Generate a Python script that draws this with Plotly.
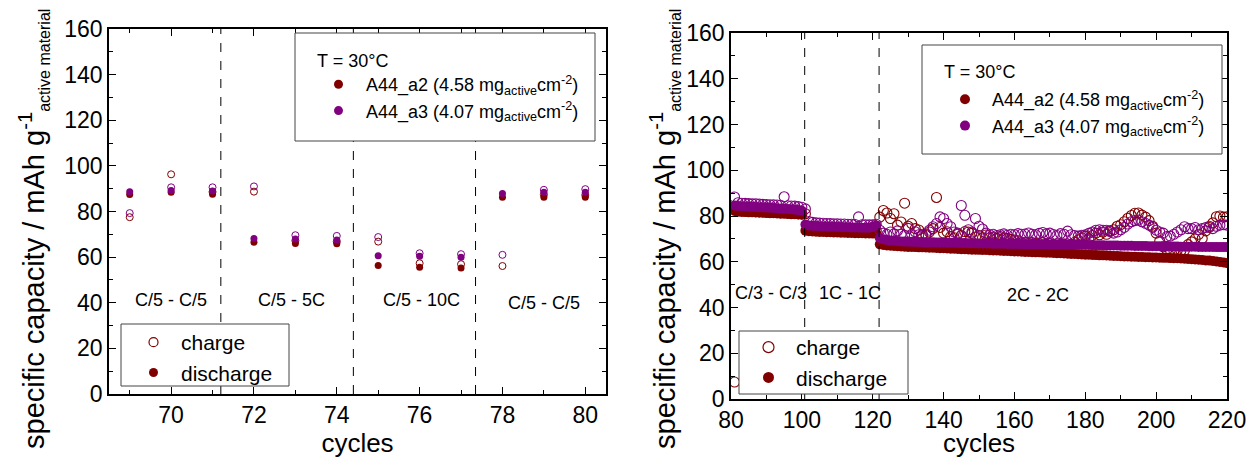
import plotly.graph_objects as go

FONT = "Liberation Sans, Arial, sans-serif"
RED = "#800000"
PURPLE = "#800080"
OFF = 8                    # default page body margin of the html page
W, H = 1256 - OFF, 458 - OFF

# ---------------- left panel data (cycles 69-80) ----------------
cyc_left = [69, 70, 71, 72, 73, 74, 75, 76, 77, 78, 79, 80]
a2_dis_left = [87.5, 88.4, 87.6, 66.5, 66.0, 65.9, 56.3, 55.6, 55.2, 86.2, 86.3, 86.3]
a3_dis_left = [88.7, 89.2, 89.0, 68.2, 68.0, 67.5, 60.6, 60.4, 60.0, 87.9, 88.4, 88.4]
a2_chg_left = [77.5, 96.3, 88.6, 88.7, 67.2, 66.8, 66.8, 57.3, 56.9, 56.1, 87.4, 87.2]
a3_chg_left = [79.3, 90.6, 90.6, 91.0, 69.6, 69.3, 68.8, 61.7, 61.3, 61.0, 89.5, 89.8]
left_dividers = [71.2, 74.4, 77.35]
left_labels = ["C/5 - C/5", "C/5 - 5C", "C/5 - 10C", "C/5 - C/5"]
left_label_x = [70.0, 72.9, 76.05, 79.0]
left_label_y = [41, 41, 41, 40]

# ---------------- right panel data (cycles 81-220) ----------------
cyc_right = list(range(81, 221))
a2_dis_right = [
    # C/3 81-100
    82.2, 81.9, 81.8, 81.7, 81.6, 81.6, 81.5, 81.4, 81.4, 81.3,
    81.2, 81.2, 81.1, 81.0, 81.0, 80.9, 80.8, 80.8, 80.7, 80.6,
    # 1C 101-121
    73.6, 73.3, 73.2, 73.1, 73.0, 73.0, 72.9, 72.9, 72.8, 72.8,
    72.7, 72.7, 72.6, 72.6, 72.5, 72.5, 72.5, 72.4, 72.4, 72.3, 72.3,
    # 2C 122-220
    67.6, 67.3, 67.1, 67.0, 66.9, 66.8, 66.7, 66.6, 66.5, 66.5,
    66.4, 66.3, 66.3, 66.2, 66.1, 66.1, 66.0, 65.9, 65.9, 65.8,
    65.7, 65.7, 65.6, 65.5, 65.5, 65.4, 65.3, 65.3, 65.2, 65.1,
    65.1, 65.0, 64.9, 64.9, 64.8, 64.7, 64.7, 64.6, 64.5, 64.5,
    64.4, 64.3, 64.3, 64.2, 64.1, 64.1, 64.0, 63.9, 63.9, 63.8,
    63.7, 63.7, 63.6, 63.5, 63.4, 63.4, 63.3, 63.2, 63.1, 63.1,
    63.0, 62.9, 62.8, 62.8, 62.7, 62.6, 62.5, 62.5, 62.4, 62.3,
    62.3, 62.2, 62.2, 62.1, 62.1, 62.0, 62.0, 61.9, 61.9, 61.8,
    61.7, 61.7, 61.6, 61.5, 61.5, 61.4, 61.3, 61.2, 61.1, 61.0,
    60.9, 60.8, 60.6, 60.5, 60.3, 60.1, 59.9, 59.7, 59.4,
]
a3_dis_right = [
    84.6, 84.4, 84.3, 84.2, 84.1, 84.0, 83.9, 83.8, 83.8, 83.7,
    83.6, 83.5, 83.4, 83.3, 83.2, 83.1, 83.0, 82.8, 82.6, 82.3,
    76.3, 75.9, 75.7, 75.6, 75.5, 75.4, 75.4, 75.3, 75.3, 75.2,
    75.2, 75.1, 75.1, 75.0, 75.0, 75.0, 74.9, 74.9, 74.9, 75.2, 75.8,
    70.4, 69.8, 69.5, 69.3, 69.2, 69.0, 68.9, 68.8, 68.8, 68.7,
    68.7, 68.6, 68.6, 68.5, 68.5, 68.5, 68.4, 68.4, 68.4, 68.3,
    68.3, 68.3, 68.2, 68.2, 68.2, 68.1, 68.1, 68.1, 68.0, 68.0,
    68.0, 68.0, 67.9, 67.9, 67.9, 67.9, 67.8, 67.8, 67.8, 67.8,
    67.7, 67.7, 67.7, 67.7, 67.6, 67.6, 67.6, 67.6, 67.5, 67.5,
    67.5, 67.5, 67.4, 67.4, 67.4, 67.4, 67.3, 67.3, 67.3, 67.3,
    67.2, 67.2, 67.2, 67.2, 67.1, 67.1, 67.1, 67.1, 67.0, 67.0,
    67.0, 67.0, 66.9, 66.9, 66.9, 66.9, 66.8, 66.8, 66.8, 66.8,
    66.8, 66.7, 66.7, 66.7, 66.7, 66.6, 66.6, 66.6, 66.6, 66.6,
    66.5, 66.5, 66.5, 66.5, 66.5, 66.4, 66.4, 66.4, 66.4,
]
a2_chg_right = [
    7.4, 82.5, 82.3, 82.2, 82.1, 82.0, 81.9, 81.9, 81.8, 81.7,
    81.6, 81.6, 81.5, 81.4, 81.4, 81.3, 81.2, 81.1, 81.0, 80.9,
    81.0, 74.8, 74.2, 74.0, 73.9, 73.8, 73.7, 73.7, 73.6, 73.6,
    73.5, 73.5, 73.4, 73.4, 73.3, 73.3, 73.3, 73.2, 73.2, 73.1, 73.6,
    79.5, 82.4, 81.3, 78.9, 81.0, 76.0, 77.4, 85.6, 75.5, 76.7,
    74.5, 73.9, 72.0, 71.5, 73.0, 74.5, 88.1, 75.0, 72.5, 73.1,
    71.0, 70.5, 72.0, 71.5, 73.2, 73.0, 72.4, 70.8, 71.5, 70.5,
    71.7, 70.5, 70.8, 70.2, 71.0, 70.4, 70.2, 69.8, 69.5, 69.2,
    68.3, 68.5, 68.0, 68.4, 68.1, 67.9, 68.3, 67.7, 68.0, 67.6,
    67.9, 67.4, 67.7, 67.3, 67.6, 68.5, 69.5, 70.5, 71.2, 70.0,
    71.5, 72.5, 71.8, 73.0, 72.0, 73.5, 74.0, 75.5, 76.2, 77.5,
    79.0, 80.2, 81.2, 81.3, 80.4, 79.5, 78.0, 75.5, 72.5, 69.0,
    66.5, 65.2, 65.0, 64.8, 65.1, 64.9, 65.0, 67.5, 68.7, 70.0,
    72.0, 70.2, 73.5, 75.0, 77.0, 79.7, 80.0, 79.5, 79.7,
]
a3_chg_right = [
    88.3, 85.8, 85.6, 85.5, 85.4, 85.3, 85.3, 85.2, 85.1, 85.0,
    84.9, 84.9, 84.8, 84.7, 88.4, 84.5, 84.4, 84.3, 84.1, 83.8,
    83.1, 77.6, 77.2, 77.0, 76.9, 76.8, 76.7, 76.7, 76.6, 76.6,
    76.5, 76.5, 76.4, 76.4, 76.3, 79.6, 76.2, 76.2, 76.1, 76.1, 76.4,
    73.8, 72.5, 72.0, 73.0, 72.2, 73.5, 72.0, 71.5, 74.6, 72.0,
    73.1, 71.8, 71.5, 72.0, 73.8, 75.3, 76.7, 79.6, 78.9, 76.7,
    75.3, 73.0, 72.5, 84.6, 80.3, 74.0, 73.0, 78.9, 75.5, 74.3,
    72.5, 71.8, 72.0, 71.5, 71.8, 72.2, 71.6, 72.0, 71.8, 72.3,
    72.0, 72.1, 72.6, 72.0, 71.8, 72.4, 72.8, 72.2, 72.5, 71.9,
    71.5, 72.3, 72.0, 73.4, 71.8, 71.5, 71.2, 71.6, 71.8, 72.4,
    73.0, 73.8, 74.0, 73.8, 73.8, 73.2, 72.5, 73.0, 74.0, 75.0,
    76.5, 77.5, 78.0, 78.2, 77.5, 76.8, 76.0, 75.0, 73.8, 73.0,
    72.5, 71.0, 71.2, 72.0, 73.0, 74.0, 75.3, 74.5, 74.5, 75.0,
    74.0, 74.5, 75.0, 75.5, 74.5, 75.5, 76.0, 76.2, 76.0,
]
right_dividers = [100.8, 121.8]
right_labels = ["C/3 - C/3", "1C - 1C", "2C - 2C"]
right_label_x = [91.3, 113.6, 166.6]
right_label_y = [46.3, 46.3, 45.5]

series_names = ["A44_a2 (4.58 mg<sub>active</sub>cm<sup>-2</sup>)",
                "A44_a3 (4.07 mg<sub>active</sub>cm<sup>-2</sup>)"]
legend_title = "T = 30°C"
ytitle = ("specific capacity / mAh g<sup>-1</sup>"
          "<sub><span style='font-size:16px'>active material</span></sub>")
xtitle = "cycles"


def px_x(p):
    return (p - OFF) / W


def px_y(p):
    return 1 - (p - OFF) / H


fig = go.Figure()


def add_panel(xa, ya, cyc, a2d, a2c, a3c, a3d, msize, lw):
    fig.add_trace(go.Scatter(x=cyc, y=a2d, mode="markers", xaxis=xa, yaxis=ya, showlegend=False,
                             marker=dict(symbol="circle", size=msize, color=RED)))
    fig.add_trace(go.Scatter(x=cyc, y=a2c, mode="markers", xaxis=xa, yaxis=ya, showlegend=False,
                             marker=dict(symbol="circle-open", size=msize, color=RED, line=dict(width=lw))))
    fig.add_trace(go.Scatter(x=cyc, y=a3c, mode="markers", xaxis=xa, yaxis=ya, showlegend=False,
                             marker=dict(symbol="circle-open", size=msize, color=PURPLE, line=dict(width=lw))))
    fig.add_trace(go.Scatter(x=cyc, y=a3d, mode="markers", xaxis=xa, yaxis=ya, showlegend=False,
                             marker=dict(symbol="circle", size=msize, color=PURPLE)))


add_panel("x", "y", cyc_left, a2_dis_left, a2_chg_left, a3_chg_left, a3_dis_left, 7, 1)
add_panel("x2", "y2", cyc_right, a2_dis_right, a2_chg_right, a3_chg_right, a3_dis_right, 10, 1.1)

# legend entries (dummy traces)
for lg, xa, ya, ms in [("legend", "x", "y", 9), ("legend3", "x2", "y2", 10)]:
    fig.add_trace(go.Scatter(x=[None], y=[None], mode="markers", xaxis=xa, yaxis=ya, legend=lg,
                             name=series_names[0], marker=dict(symbol="circle", size=ms, color=RED)))
    fig.add_trace(go.Scatter(x=[None], y=[None], mode="markers", xaxis=xa, yaxis=ya, legend=lg,
                             name=series_names[1], marker=dict(symbol="circle", size=ms, color=PURPLE)))
for lg, xa, ya, ms in [("legend2", "x", "y", 9), ("legend4", "x2", "y2", 11)]:
    fig.add_trace(go.Scatter(x=[None], y=[None], mode="markers", xaxis=xa, yaxis=ya, legend=lg,
                             name="charge", marker=dict(symbol="circle-open", size=ms, color=RED,
                                                        line=dict(width=1.2))))
    fig.add_trace(go.Scatter(x=[None], y=[None], mode="markers", xaxis=xa, yaxis=ya, legend=lg,
                             name="discharge", marker=dict(symbol="circle", size=ms, color=RED)))

shapes = []
for d in left_dividers:
    shapes.append(dict(type="line", xref="x", yref="y domain", x0=d, x1=d, y0=0, y1=1,
                       line=dict(color="black", width=1, dash="dash")))
for d in right_dividers:
    shapes.append(dict(type="line", xref="x2", yref="y2 domain", x0=d, x1=d, y0=0, y1=1,
                       line=dict(color="black", width=1, dash="dash")))
boxes = [(295, 595, 33, 141), (121, 289, 324, 386), (922, 1222, 45, 154), (739, 908, 331, 394)]
for x0, x1, y0, y1 in boxes:
    shapes.append(dict(type="rect", xref="paper", yref="paper", x0=px_x(x0), x1=px_x(x1),
                       y0=px_y(y1), y1=px_y(y0), fillcolor="white",
                       line=dict(color="#444", width=1), layer="above"))

annotations = []
for t, x, y in zip(left_labels, left_label_x, left_label_y):
    annotations.append(dict(text=t, x=x, y=y, xref="x", yref="y", showarrow=False,
                            font=dict(family=FONT, size=18, color="black")))
for t, x, y in zip(right_labels, right_label_x, right_label_y):
    annotations.append(dict(text=t, x=x, y=y, xref="x2", yref="y2", showarrow=False,
                            font=dict(family=FONT, size=18, color="black")))
# legend titles
for xp, yp in [(315, 61), (942, 72)]:
    annotations.append(dict(text=legend_title, x=px_x(xp), y=px_y(yp), xref="paper", yref="paper",
                            xanchor="left", yanchor="middle", showarrow=False,
                            font=dict(family=FONT, size=18, color="black")))
# y-axis titles
for xp, yp in [(34, 229), (665, 229)]:
    annotations.append(dict(text=ytitle, x=px_x(xp), y=px_y(yp), xref="paper", yref="paper",
                            xanchor="center", yanchor="middle", textangle=-90, showarrow=False,
                            font=dict(family=FONT, size=29, color="black")))

axis_common = dict(showline=True, linecolor="black", linewidth=1.5, mirror="allticks",
                   ticks="inside", ticklen=7, tickwidth=1.2, tickcolor="black",
                   showgrid=False, zeroline=False, automargin=False,
                   tickfont=dict(family=FONT, size=23, color="black"))
minor_x_left = dict(dtick=1, ticks="inside", ticklen=4, tickcolor="black")
minor_common = dict(dtick=10, ticks="inside", ticklen=4, tickcolor="black")

fig.update_layout(
    width=W, height=H, margin=dict(l=0, r=0, t=0, b=0),
    paper_bgcolor="white", plot_bgcolor="white",
    font=dict(family=FONT, color="black"),
    xaxis=dict(domain=[px_x(109), px_x(606)], range=[68.5, 80.5], dtick=2, tick0=0,
               minor=minor_x_left,
               title=dict(text=xtitle, font=dict(size=26), standoff=2), **axis_common),
    yaxis=dict(domain=[px_y(394), px_y(29)], range=[0, 160], dtick=20,
               minor=minor_common, **axis_common),
    xaxis2=dict(domain=[px_x(731), px_x(1227)], range=[80, 220], dtick=20, anchor="y2",
                minor=minor_common,
                title=dict(text=xtitle, font=dict(size=26), standoff=5), **axis_common),
    yaxis2=dict(domain=[px_y(399), px_y(33)], range=[0, 160], dtick=20, anchor="x2",
                minor=minor_common, **axis_common),
    shapes=shapes, annotations=annotations,
    legend=dict(x=px_x(311), y=px_y(66), xanchor="left", yanchor="top", bgcolor="rgba(0,0,0,0)",
                font=dict(size=18), itemwidth=45),
    legend2=dict(x=px_x(126), y=px_y(322), xanchor="left", yanchor="top", bgcolor="rgba(0,0,0,0)",
                 font=dict(size=21), itemwidth=45),
    legend3=dict(x=px_x(938), y=px_y(81), xanchor="left", yanchor="top", bgcolor="rgba(0,0,0,0)",
                 font=dict(size=18), itemwidth=44),
    legend4=dict(x=px_x(741), y=px_y(327), xanchor="left", yanchor="top", bgcolor="rgba(0,0,0,0)",
                 font=dict(size=21), itemwidth=45),
)

fig.write_html("out.html")
